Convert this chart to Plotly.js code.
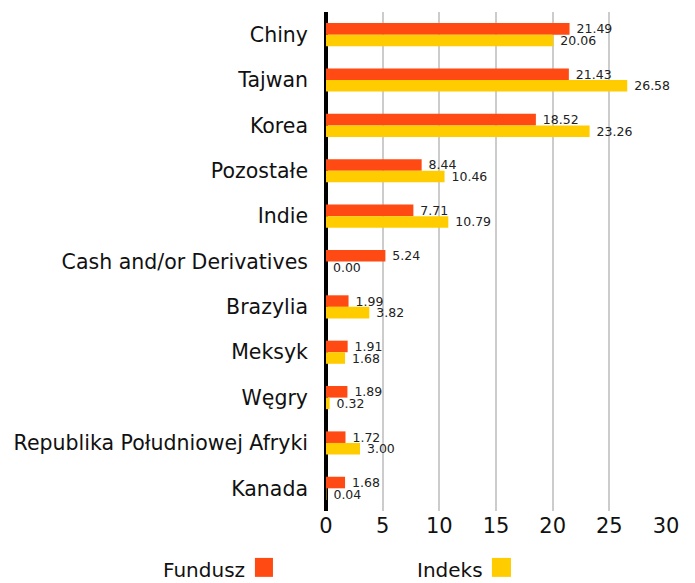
<!DOCTYPE html>
<html>
<head>
<meta charset="utf-8">
<script src="https://cdn.plot.ly/plotly-3.0.1.min.js"></script>
<style>html,body{margin:0;padding:0;background:#fff;}#chart{width:695px;height:583px;}</style>
</head>
<body>
<div id="chart"></div>
<script>
const categories = ["Chiny","Tajwan","Korea","Pozostałe","Indie","Cash and/or Derivatives","Brazylia","Meksyk","Węgry","Republika Południowej Afryki","Kanada"];
const fundusz = [21.49,21.43,18.52,8.44,7.71,5.24,1.99,1.91,1.89,1.72,1.68];
const indeks = [20.06,26.58,23.26,10.46,10.79,0.00,3.82,1.68,0.32,3.00,0.04];
const seriesNames = ["Fundusz","Indeks"];
const xTicks = [0,5,10,15,20,25,30];

const FONT = "'DejaVu Sans', sans-serif";
const colors = ["#FF4A14","#FFCC00"];

function trace(vals, name, color){
  return {
    type:"bar", orientation:"h", y:categories, x:vals, name:name,
    marker:{color:color},
    text: vals.map(v=>" " + v.toFixed(2)), textposition:"outside",
    textfont:{family:FONT,size:12.5,color:"#222"},
    constraintext:"none", cliponaxis:false, showlegend:false,
    hoverinfo:"x+y+name"
  };
}

const data = [trace(fundusz, seriesNames[0], colors[0]), trace(indeks, seriesNames[1], colors[1])];

const layout = {
  width:695, height:583,
  margin:{l:326, r:29, t:12, b:72},
  paper_bgcolor:"#fff", plot_bgcolor:"#fff",
  barmode:"group", bargap:0.49, bargroupgap:0,
  font:{family:FONT, color:"#111"},
  xaxis:{range:[0,30], tickvals:xTicks, ticktext:xTicks.map(String),
    showgrid:true, gridcolor:"#cccccc", gridwidth:2,
    zeroline:true, zerolinecolor:"#000", zerolinewidth:4,
    showline:false, ticks:"", tickfont:{family:FONT,size:21,color:"#111"}, fixedrange:true},
  yaxis:{autorange:"reversed", type:"category", showgrid:false, zeroline:false, showline:false,
    ticks:"", ticklabelstandoff:17, tickfont:{family:FONT,size:20.5,color:"#111"}, fixedrange:true},
  annotations:[
    {xref:"paper", yref:"paper", x:-0.232, y:-0.118, xanchor:"right", yanchor:"middle", text:seriesNames[0], showarrow:false, font:{family:FONT,size:20,color:"#111"}},
    {xref:"paper", yref:"paper", x:0.468, y:-0.118, xanchor:"right", yanchor:"middle", text:seriesNames[1], showarrow:false, font:{family:FONT,size:20,color:"#111"}}
  ],
  shapes:[
    {type:"rect", xref:"paper", yref:"paper", x0:-0.209, x1:-0.156, y0:-0.132, y1:-0.094, fillcolor:colors[0], line:{width:0}},
    {type:"rect", xref:"paper", yref:"paper", x0:0.488, x1:0.544, y0:-0.132, y1:-0.094, fillcolor:colors[1], line:{width:0}}
  ]
};

Plotly.newPlot("chart", data, layout, {displayModeBar:false, staticPlot:true});
</script>
</body>
</html>
